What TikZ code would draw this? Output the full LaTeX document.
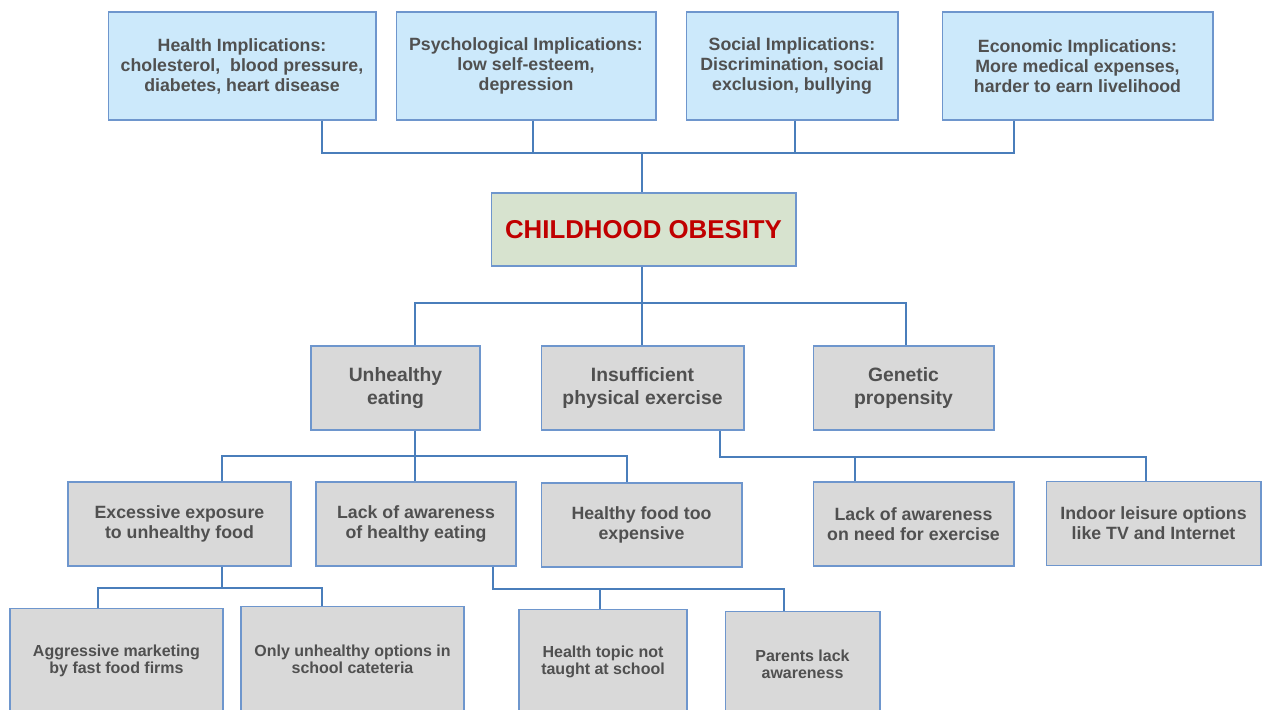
\documentclass[tikz,border=0pt]{standalone}
\usepackage{fontspec}
\setmainfont{Liberation Sans}
\usepackage{xcolor}
\definecolor{lineblue}{RGB}{74, 126, 187}
\definecolor{edgeblue}{RGB}{110, 150, 205}
\definecolor{implblue}{RGB}{204, 233, 251}
\definecolor{causegray}{RGB}{217, 217, 217}
\definecolor{centergreen}{RGB}{215, 227, 207}
\definecolor{textgray}{RGB}{80, 80, 80}
\definecolor{titlered}{RGB}{192, 0, 0}
\usepackage{tikz}
\usetikzlibrary{positioning}
\tikzstyle{implbox} = [
    rectangle, draw=edgeblue,
    line width=0.6pt,
    fill=implblue,
    minimum height=2.16cm,
    text centered,
    align=center,
    text=textgray,
    font=\bfseries\fontsize{10.1}{11.4}\selectfont
]
\tikzstyle{causebox} = [
    rectangle, draw=edgeblue,
    line width=0.6pt,
    fill=causegray,
    minimum height=1.68cm,
    text centered,
    align=center,
    text=textgray,
    font=\bfseries\fontsize{11}{13.1}\selectfont
]
\tikzstyle{subbox} = [
    causebox,
    font=\bfseries\fontsize{10.1}{11.4}\selectfont
]
\tikzstyle{leafbox} = [
    causebox,
    minimum height=2.1cm,
    font=\bfseries\fontsize{9.1}{9.8}\selectfont
]
\tikzstyle{link} = [
    draw=lineblue,
    line width=1.1pt
]

\begin{document}
\begin{tikzpicture}[x=0.02cm, y=-0.02cm]
\clip (0,0) rectangle (1266,709);

% effects
\node (health) [implbox, minimum width=5.36cm] at (242,66)
    {Health Implications:\\cholesterol,\ \ blood pressure,\\diabetes, heart disease};
\node (psych) [implbox, minimum width=5.2cm] at (526,66)
    {Psychological Implications:\\low self-esteem,\\depression};
\node (social) [implbox, minimum width=4.24cm] at (792,66)
    {Social Implications:\\Discrimination, social\\exclusion, bullying};
\node (econ) [implbox, minimum width=5.42cm] at (1077.5,66)
    {Economic Implications:\\More medical expenses,\\harder to earn livelihood};

% centre
\node (obesity) [rectangle, draw=edgeblue, line width=0.6pt, fill=centergreen,
    minimum width=6.1cm, minimum height=1.46cm, text=titlered,
    font=\bfseries\fontsize{14.7}{17}\selectfont] at (643.5,229.5)
    {CHILDHOOD OBESITY};

% causes
\node (eating) [causebox, minimum width=3.38cm] at (395.5,388)
    {Unhealthy\\eating};
\node (exercise) [causebox, minimum width=4.06cm] at (642.5,388)
    {Insufficient\\physical exercise};
\node (genetic) [causebox, minimum width=3.62cm] at (903.5,388)
    {Genetic\\propensity};

% sub causes
\node (exposure) [subbox, minimum width=4.46cm] at (179.5,524)
    {Excessive exposure\\to unhealthy food};
\node (lackeat) [subbox, minimum width=4cm] at (416,524)
    {Lack of awareness\\of healthy eating};
\node (expensive) [subbox, minimum width=4.02cm] at (641.5,525)
    {Healthy food too\\expensive};
\node (lackex) [subbox, minimum width=4.02cm] at (913.5,524)
    {Lack of awareness\\on need for exercise};
\node (indoor) [subbox, minimum width=4.3cm] at (1153.5,523.5)
    {Indoor leisure options\\like TV and Internet};

% leaves
\node (marketing) [leafbox, minimum width=4.26cm, anchor=north] at (116.5,608)
    {Aggressive marketing\\by fast food firms};
\node (cafeteria) [leafbox, minimum width=4.46cm, anchor=north] at (352.5,606)
    {Only unhealthy options in\\school cateteria};
\node (school) [leafbox, minimum width=3.36cm, anchor=north] at (603,609)
    {Health topic not\\taught at school};
\node (parents) [leafbox, minimum width=3.1cm, anchor=north] at (802.5,611)
    {Parents lack\\awareness};

% junctions
\coordinate (topbus) at (642,153);
\coordinate (hj) at (322,153);
\coordinate (pj) at (533,153);
\coordinate (sj) at (795,153);
\coordinate (ej) at (1014,153);
\coordinate (causebus) at (642,303);
\coordinate (eatj) at (415,456);
\coordinate (exj) at (720,457);
\coordinate (expj) at (222,588);
\coordinate (lackj) at (493,589);

\draw [link] (health.south -| hj) -- (hj) -- (ej) -- (econ.south -| ej);
\draw [link] (psych.south -| pj) -- (pj);
\draw [link] (social.south -| sj) -- (sj);
\draw [link] (topbus) -- (obesity.north -| topbus);

\draw [link] (obesity.south -| causebus) -- (causebus);
\draw [link] (eating.north -| 415,0) |- (causebus) -| (genetic.north -| 906,0);
\draw [link] (causebus) -- (exercise.north -| causebus);

\draw [link] (eating.south -| eatj) -- (eatj);
\draw [link] (exposure.north -| 222,0) |- (eatj) -| (expensive.north -| 627,0);
\draw [link] (eatj) -- (lackeat.north -| eatj);

\draw [link] (exercise.south -| exj) -- (exj) -| (indoor.north -| 1146,0);
\draw [link] (exj -| 855,0) -- (lackex.north -| 855,0);

\draw [link] (exposure.south -| expj) -- (expj);
\draw [link] (marketing.north -| 98,0) |- (expj) -| (cafeteria.north -| 322,0);

\draw [link] (lackeat.south -| lackj) -- (lackj) -| (parents.north -| 784,0);
\draw [link] (lackj -| 600,0) -- (school.north -| 600,0);

\end{tikzpicture}
\end{document}
